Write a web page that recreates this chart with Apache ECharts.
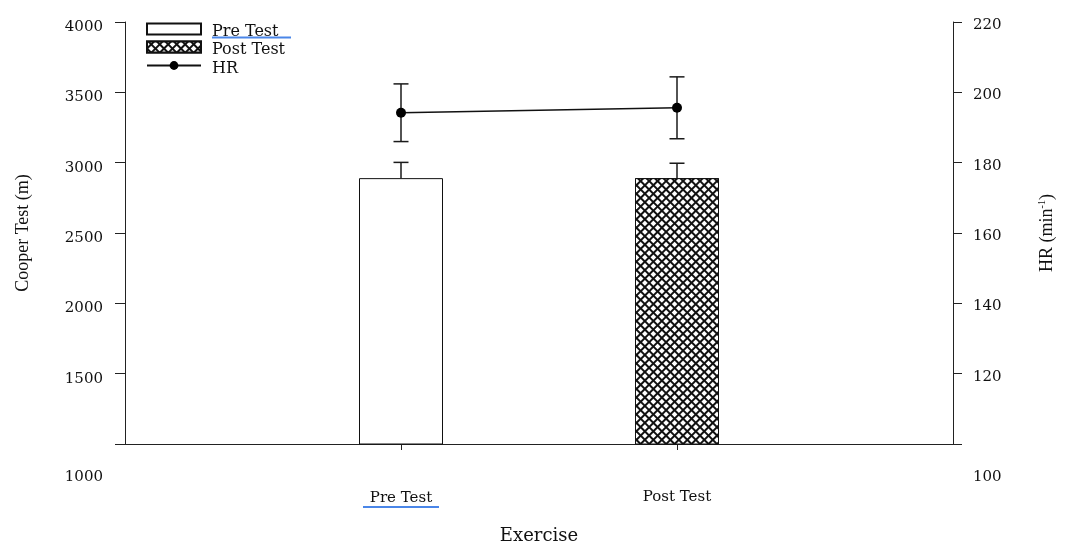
<!DOCTYPE html>
<html>
<head>
<meta charset="utf-8">
<title>Cooper Test and HR</title>
<script src="https://cdn.jsdelivr.net/npm/echarts@6/dist/echarts.min.js"></script>
<style>
  html, body { margin: 0; padding: 0; background: #ffffff; }
  #chart { width: 1073px; height: 543px; }
</style>
</head>
<body>
<div id="chart"></div>
<script>
// Category slots: blank slots at both ends keep the two groups at 1/3 and 2/3 of the width
const categories = ['', 'Pre Test', 'Post Test', ''];
const groups = ['Pre Test', 'Post Test'];

// Cooper test distance (m), mean and SD
const cooperMean = [2890, 2890];
const cooperSD = [112, 106];

// Heart rate (min^-1), mean and SD
const hrMean = [194.2, 195.6];
const hrSD = [8.2, 8.8];

// Axis tick values
const cooperTicks = { min: 1000, max: 4000, step: 500 };
const hrTicks = { min: 100, max: 220, step: 20 };

const SERIF = 'DejaVu Serif';
const TIMES = 'Liberation Serif';
const INK = '#111111';
const LINK_BLUE = '#4a86e8';

// place a per-group value on its category slot
function slotData(values, only) {
  const out = categories.map(() => '-');
  groups.forEach((g, i) => {
    if (only === undefined || only === i) out[categories.indexOf(g)] = values[i];
  });
  return out;
}

function errorData(mean, sd) {
  return groups.map((g, i) => [categories.indexOf(g), mean[i], sd[i]]);
}

function errorRenderer(upOnly) {
  return function (params, api) {
    const x = api.value(0);
    const m = api.value(1);
    const s = api.value(2);
    const top = api.coord([x, m + s]);
    const bot = api.coord([x, upOnly ? m : m - s]);
    const half = 7.5;
    const style = { stroke: '#1a1a1a', lineWidth: 1.5 };
    const children = [
      { type: 'line', shape: { x1: top[0], y1: top[1], x2: bot[0], y2: bot[1] }, style: style },
      { type: 'line', shape: { x1: top[0] - half, y1: top[1], x2: top[0] + half, y2: top[1] }, style: style }
    ];
    if (!upOnly) {
      children.push({ type: 'line', shape: { x1: bot[0] - half, y1: bot[1], x2: bot[0] + half, y2: bot[1] }, style: style });
    }
    return { type: 'group', children: children };
  };
}

const chart = echarts.init(document.getElementById('chart'), null, { renderer: 'canvas' });

const hatch = {
  symbol: 'rect',
  symbolSize: 1,
  color: '#ffffff',
  dashArrayX: [4, 2],
  dashArrayY: [4, 2],
  rotation: Math.PI / 4
};

chart.setOption({
  animation: false,
  backgroundColor: '#ffffff',
  grid: { left: 125, right: 120, top: 22, bottom: 99, containLabel: false, outerBoundsMode: 'none' },
  legend: {
    data: [
      { name: 'Pre Test', icon: 'rect' },
      { name: 'Post Test', icon: 'rect' },
      { name: 'HR' }
    ],
    orient: 'vertical',
    left: 146,
    top: 20,
    padding: 0,
    itemWidth: 54,
    itemHeight: 11,
    itemGap: -1.5,
    formatter: function (name) {
      return name === 'Pre Test' ? '{t|Pre Test}\n{u| }' : name;
    },
    textStyle: {
      fontFamily: SERIF,
      fontSize: 16,
      lineHeight: 12,
      color: INK,
      padding: [6, 0, 0, 6],
      rich: {
        t: { fontFamily: SERIF, fontSize: 16, lineHeight: 11, color: INK },
        u: { width: 79, height: 2, lineHeight: 1, fontSize: 1, backgroundColor: LINK_BLUE }
      }
    }
  },
  xAxis: {
    type: 'category',
    data: categories,
    boundaryGap: false,
    axisLine: { lineStyle: { color: '#222222', width: 1 } },
    axisTick: {
      show: true,
      length: 6,
      interval: function (i) { return i === 1 || i === 2; },
      lineStyle: { color: '#222222' }
    },
    axisLabel: {
      interval: 0,
      margin: 46,
      fontFamily: SERIF,
      fontSize: 15,
      color: INK,
      formatter: function (v) {
        return v === 'Pre Test' ? '{t|Pre Test}\n{u| }' : v;
      },
      rich: {
        t: { fontFamily: SERIF, fontSize: 15, lineHeight: 16, color: INK },
        u: { width: 76, height: 2, lineHeight: 2, fontSize: 2, backgroundColor: LINK_BLUE }
      }
    },
    splitLine: { show: false },
    name: 'Exercise',
    nameLocation: 'middle',
    nameGap: 83,
    nameTextStyle: { fontFamily: SERIF, fontSize: 18, color: INK }
  },
  yAxis: [
    {
      type: 'value',
      position: 'left',
      min: cooperTicks.min,
      max: cooperTicks.max,
      interval: cooperTicks.step,
      axisLine: { show: true, lineStyle: { color: '#222222', width: 1 } },
      axisTick: { show: true, length: 10, lineStyle: { color: '#222222' } },
      axisLabel: {
        margin: 22,
        fontFamily: SERIF,
        fontSize: 15,
        color: INK,
        padding: [10, 0, 0, 0],
        formatter: function (v) { return v === cooperTicks.min ? '{low|' + v + '}' : String(v); },
        rich: { low: { padding: [56, 0, 0, 0], fontFamily: SERIF, fontSize: 15, color: INK } }
      },
      splitLine: { show: false },
      name: 'Cooper Test (m)',
      nameLocation: 'middle',
      nameRotate: 90,
      nameGap: 93,
      nameTextStyle: { fontFamily: TIMES, fontSize: 18, color: INK }
    },
    {
      type: 'value',
      position: 'right',
      min: hrTicks.min,
      max: hrTicks.max,
      interval: hrTicks.step,
      axisLine: { show: true, lineStyle: { color: '#222222', width: 1 } },
      axisTick: { show: true, length: 9, lineStyle: { color: '#222222' } },
      axisLabel: {
        margin: 20,
        fontFamily: SERIF,
        fontSize: 15,
        color: INK,
        padding: [6, 0, 0, 0],
        formatter: function (v) { return v === hrTicks.min ? '{low|' + v + '}' : String(v); },
        rich: { low: { padding: [60, 0, 0, 0], fontFamily: SERIF, fontSize: 15, color: INK } }
      },
      splitLine: { show: false },
      name: '{a|HR (min}{s|-1}{a|)}',
      nameLocation: 'middle',
      nameRotate: 90,
      nameGap: 84,
      nameTextStyle: {
        color: INK,
        rich: {
          a: { fontFamily: TIMES, fontSize: 18, color: INK },
          s: { fontFamily: TIMES, fontSize: 10, color: INK, padding: [0, 0, 10, 0] }
        }
      }
    }
  ],
  series: [
    {
      name: 'Pre Test',
      type: 'bar',
      data: slotData(cooperMean, 0),
      barWidth: 84,
      barGap: '-100%',
      itemStyle: { color: '#ffffff', borderColor: '#111111', borderWidth: 1 },
      z: 2
    },
    {
      name: 'Post Test',
      type: 'bar',
      data: slotData(cooperMean, 1),
      barWidth: 84,
      barGap: '-100%',
      itemStyle: { color: '#111111', borderColor: '#111111', borderWidth: 1, decal: hatch },
      z: 2
    },
    {
      name: 'Cooper SD',
      type: 'custom',
      renderItem: errorRenderer(true),
      data: errorData(cooperMean, cooperSD),
      z: 3,
      silent: true
    },
    {
      name: 'HR',
      type: 'line',
      yAxisIndex: 1,
      data: slotData(hrMean),
      symbol: 'circle',
      symbolSize: 10,
      lineStyle: { color: '#111111', width: 1.5 },
      itemStyle: { color: '#000000' },
      z: 5
    },
    {
      name: 'HR SD',
      type: 'custom',
      yAxisIndex: 1,
      renderItem: errorRenderer(false),
      data: errorData(hrMean, hrSD),
      z: 4,
      silent: true
    }
  ]
});
</script>
</body>
</html>
